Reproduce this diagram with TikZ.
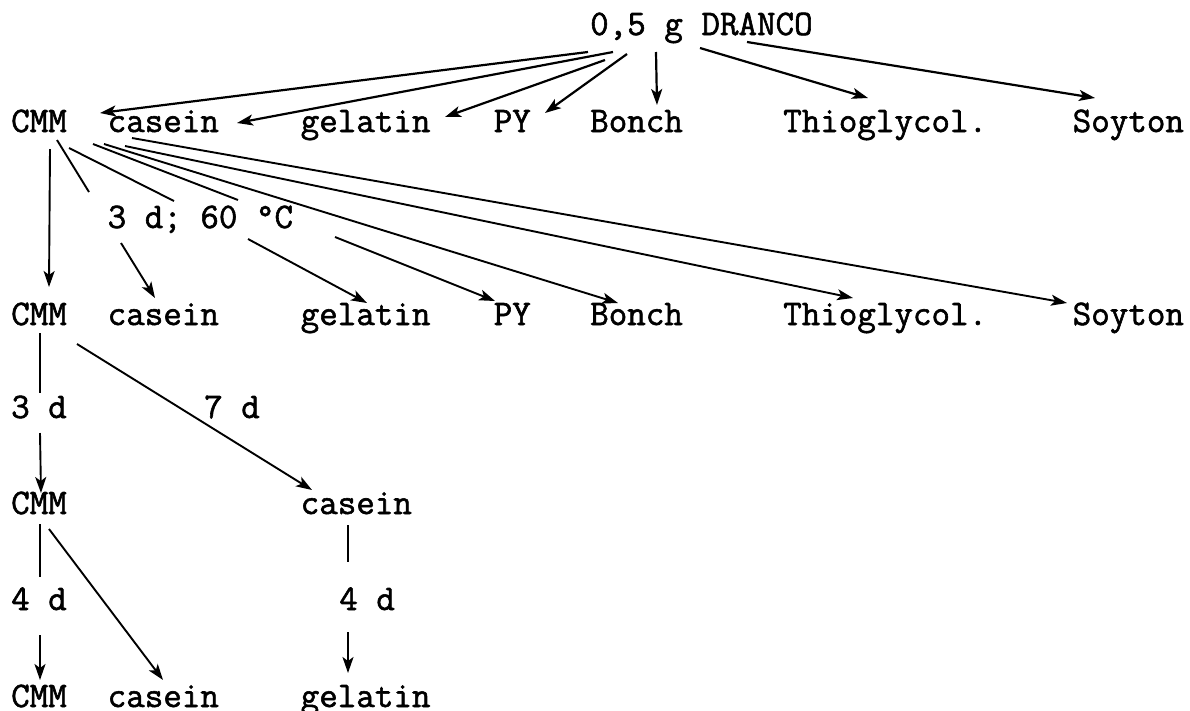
\documentclass[tikz,border=0pt]{standalone}
\usepackage{fontspec}
\setmonofont{Latin Modern Mono}[FakeBold=1.6]
\usetikzlibrary{arrows.meta}
\begin{document}
\begin{tikzpicture}[x=1pt,y=-1pt,
  lbl/.style={inner sep=0pt, anchor=base west, font=\ttfamily\fontsize{36}{40}\selectfont},
  con/.style={line width=1.9pt},
  arr/.style={con,-{Stealth[length=16pt,width=11pt,inset=4pt]}}]
\useasboundingbox (0,0) rectangle (1190,710);
% ---------- texts ----------
\node[lbl] (top)  at ({11+19.3*30},35) {0,5 g DRANCO};
\node[lbl] (cmmA) at ({11+19.3*0},132) {CMM};
\node[lbl] (casA) at ({11+19.3*5},132) {casein};
\node[lbl] (gelA) at ({11+19.3*15},132) {gelatin};
\node[lbl] (pyA)  at ({11+19.3*25},132) {PY};
\node[lbl] (bonA) at ({11+19.3*30},132) {Bonch};
\node[lbl] (thiA) at ({11+19.3*40},132) {Thioglycol.};
\node[lbl] (soyA) at ({11+19.3*55},132) {Soyton};
\node[lbl] (labA) at ({11+19.3*5},228) {3 d; 60 °C};
\node[lbl] (cmmB) at ({11+19.3*0},325) {CMM};
\node[lbl] (casB) at ({11+19.3*5},325) {casein};
\node[lbl] (gelB) at ({11+19.3*15},325) {gelatin};
\node[lbl] (pyB)  at ({11+19.3*25},325) {PY};
\node[lbl] (bonB) at ({11+19.3*30},325) {Bonch};
\node[lbl] (thiB) at ({11+19.3*40},325) {Thioglycol.};
\node[lbl] (soyB) at ({11+19.3*55},325) {Soyton};
\node[lbl] (labB) at ({11+19.3*0},418) {3 d};
\node[lbl] (labC) at ({11+19.3*10},418) {7 d};
\node[lbl] (cmmC) at ({11+19.3*0},514) {CMM};
\node[lbl] (casC) at ({11+19.3*15},514) {casein};
\node[lbl] (labD) at ({11+19.3*0},610) {4 d};
\node[lbl] (labE) at ({11+19.3*17},610) {4 d};
\node[lbl] (cmmD) at ({11+19.3*0},707) {CMM};
\node[lbl] (casD) at ({11+19.3*5},707) {casein};
\node[lbl] (gelD) at ({11+19.3*15},707) {gelatin};
% ---------- connector end points ----------
\coordinate (s1) at (588,52);  \coordinate (e1) at (100,113);
\coordinate (s2) at (613,52);  \coordinate (e2) at (237,123);
\coordinate (s3) at (605,60);  \coordinate (e3) at (445,117);
\coordinate (s4) at (627,54);  \coordinate (e4) at (545,113);
\coordinate (s5) at (656,52);  \coordinate (e5) at (657,105);
\coordinate (s6) at (700,48);  \coordinate (e6) at (868,98);
\coordinate (s7) at (747,42);  \coordinate (e7) at (1095,98);
% row 1 -> row 2
\coordinate (a0) at (50,149);  \coordinate (b0) at (49,287);
\coordinate (a1) at (57,140);  \coordinate (m1) at (89,192);
\coordinate (n1) at (121,243); \coordinate (b1) at (155,298);
\coordinate (a2) at (69,148);  \coordinate (m2) at (174,201);
\coordinate (n2) at (248,239); \coordinate (b2) at (367,303);
\coordinate (a3) at (93,144);  \coordinate (m3) at (238,200);
\coordinate (n3) at (335,237); \coordinate (b3) at (495,301);
\coordinate (a4) at (104,144); \coordinate (b4) at (618,303);
\coordinate (a5) at (125,146); \coordinate (b5) at (853,298);
\coordinate (a6) at (132,138); \coordinate (b6) at (1067,303);
% lower part
\coordinate (c1) at (40,333);  \coordinate (c2) at (40,393);
\coordinate (c3) at (40,433);  \coordinate (c4) at (41,493);
\coordinate (d1) at (77,344);  \coordinate (d2) at (312,490);
\coordinate (f1) at (40,524);  \coordinate (f2) at (40,577);
\coordinate (f3) at (40,635);  \coordinate (f4) at (40,680);
\coordinate (g1) at (49,529);  \coordinate (g2) at (163,680);
\coordinate (h1) at (348,525); \coordinate (h2) at (348,562);
\coordinate (h3) at (348,632); \coordinate (h4) at (348,673);
% ---------- connectors ----------
\foreach \i in {1,...,7} { \draw[arr, line width=2.2pt] (s\i) -- (e\i); }
\draw[arr] (a0) -- (b0);
\draw[con] (a1) -- (m1); \draw[arr] (n1) -- (b1);
\draw[con] (a2) -- (m2); \draw[arr] (n2) -- (b2);
\draw[con] (a3) -- (m3); \draw[arr] (n3) -- (b3);
\draw[arr] (a4) -- (b4);
\draw[arr] (a5) -- (b5);
\draw[arr] (a6) -- (b6);
\draw[con] (c1) -- (c2); \draw[arr] (c3) -- (c4);
\draw[arr] (d1) -- (d2);
\draw[con] (f1) -- (f2); \draw[arr] (f3) -- (f4);
\draw[arr] (g1) -- (g2);
\draw[con] (h1) -- (h2); \draw[arr] (h3) -- (h4);
\end{tikzpicture}
\end{document}
